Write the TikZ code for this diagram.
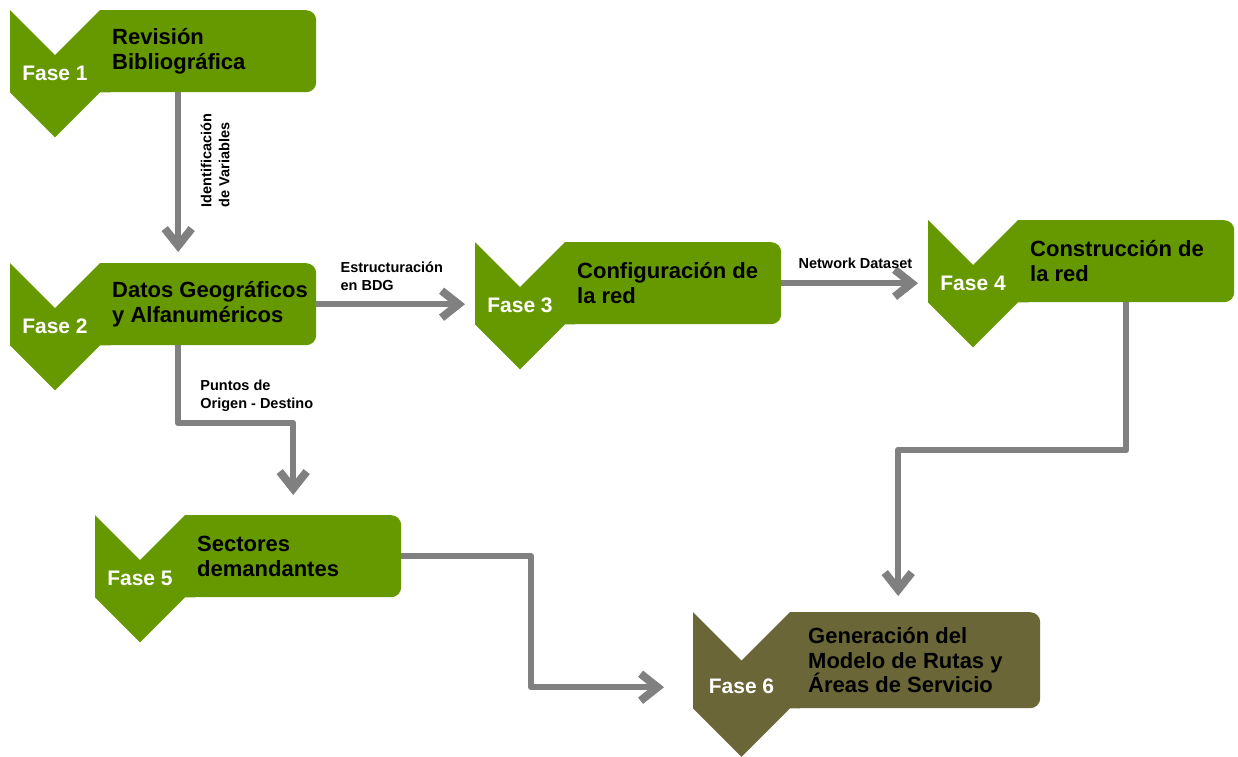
\documentclass[tikz,border=0pt]{standalone}
\usepackage{fontspec}
\setmainfont{Liberation Sans}
\usepackage{xcolor}
\usetikzlibrary{calc,positioning,arrows.meta}

\definecolor{verde}{HTML}{669900}
\definecolor{oliva}{HTML}{6B6637}
\definecolor{gris}{HTML}{808080}

\tikzset{
  caja/.style={fill=#1, rounded corners=10pt, minimum width=216pt, minimum height=82pt, anchor=north west, inner sep=0pt},
  caja/.default=verde,
  titulo/.style={anchor=west, align=left, inner sep=0pt, font=\bfseries\fontsize{22}{24.5}\selectfont},
  fase/.style={text=white, inner sep=0pt, font=\bfseries\fontsize{21}{24}\selectfont},
  etiqueta/.style={align=left, inner sep=0pt, font=\bfseries\fontsize{14.5}{18}\selectfont},
  flecha/.style={draw=gris, line width=6.5pt, line join=round, -{Straight Barb[length=17pt,width=27pt,line width=8pt]}}
}

% chevron at the left of a box: #1 box, #2 width, #3 colour
\newcommand{\chevron}[3]{
  \fill[#3] ($(#1.north west)+(10,0)$) -- (#1.north west) -- ++(-#2/2,#2/2) -- ++(-#2/2,-#2/2)
    -- ($(#1.south west)+(-#2,0)$) -- ++(#2/2,#2/2) -- ++(#2/2,-#2/2) -- ++(10,0) -- cycle;
}

\begin{document}
\begin{tikzpicture}[x=1pt,y=-1pt]
\useasboundingbox (0,0) rectangle (1238,756);
\foreach \n/\x/\y/\txt in {1/100/10/{Revisión\\Bibliográfica},
    2/100/263/{Datos Geográficos\\y Alfanuméricos},
    3/565/242/{Configuración de\\la red},
    4/1018/220/{Construcción de\\la red},
    5/185/515/{Sectores\\demandantes}} {
  \node[caja] (r\n) at (\x,\y) {};
  \chevron{r\n}{90}{verde}
  \node[titulo] (t\n) at ($(r\n.west)+(12,0)$) {\txt};
  \node[fase] (f\n) at ($(r\n.south west)+(-45,-19)$) {Fase \n};
}
\node[caja=oliva, minimum width=250pt, minimum height=96pt] (r6) at (790,612) {};
\chevron{r6}{97}{oliva}
\node[titulo] (t6) at ($(r6.west)+(18,0)$) {Generación del\\Modelo de Rutas y\\Áreas de Servicio};
\node[fase] (f6) at ($(r6.south west)+(-48.5,-22)$) {Fase 6};

% arrow ends, short of the chevrons
\coordinate (e3) at ($(r3.west)+(-100,0)$);
\coordinate (e4) at ($(r4.west)+(-100,0)$);

\draw[flecha] ($(r1.south)+(-30,0)$) -- ($(r2.north)+(-30,-11)$);
\draw[flecha] (r2.east) -- (r2.east -| e3);
\draw[flecha] (r3.east) -- (r3.east -| e4);
\draw[flecha] ($(r2.south)+(-30,0)$) |- ($(r5.north)+(0,-92)$) -- ($(r5.north)+(0,-20)$);
\draw[flecha] (r4.south) |- ($(r6.north)+(-17,-162)$) -- ($(r6.north)+(-17,-16)$);
\draw[flecha] (r5.east) -| ($(r6.west)+(-259,27)$) -- ($(r6.west)+(-126,27)$);

\node[etiqueta, rotate=90] (l1) at ($(r1.south)+(7,68)$) {Identificación\\de Variables};
\node[etiqueta, anchor=west] (l2) at ($(r2.east)+(24,-28)$) {Estructuración\\en BDG};
\node[etiqueta, anchor=west] (l3) at ($(r3.east)+(17,-20)$) {Network Dataset};
\node[etiqueta, anchor=west] (l4) at ($(r2.south)+(-8,50)$) {Puntos de\\Origen - Destino};
\end{tikzpicture}
\end{document}
